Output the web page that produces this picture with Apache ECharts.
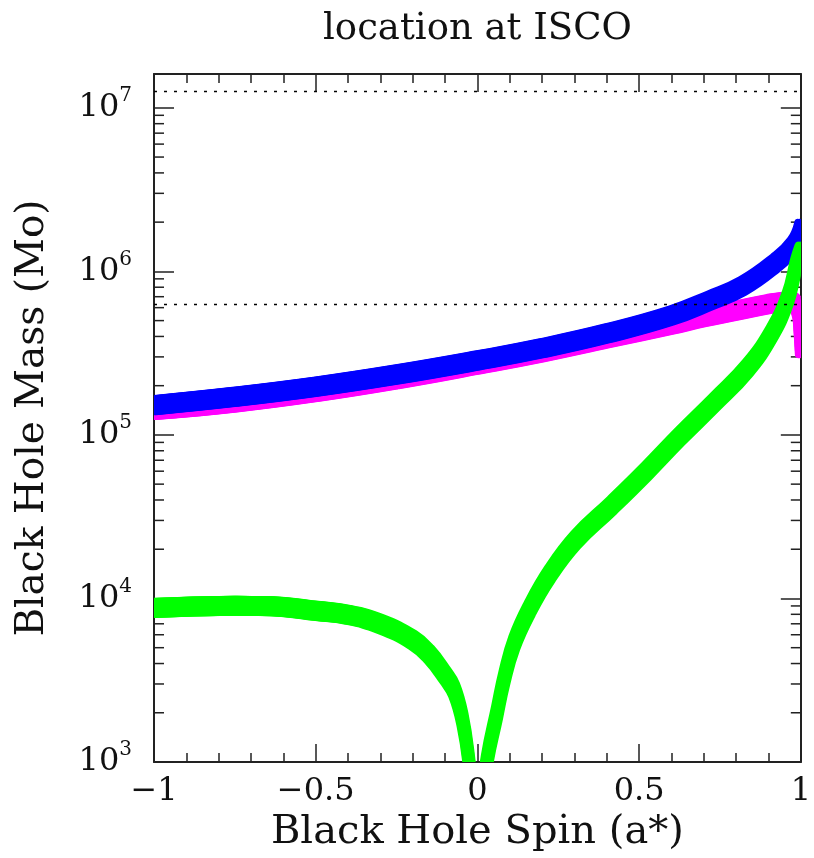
<!DOCTYPE html>
<html>
<head>
<meta charset="utf-8">
<script src="https://cdn.jsdelivr.net/npm/echarts@6/dist/echarts.min.js"></script>
<style>html,body{margin:0;padding:0;background:#fff}#c{width:814px;height:858px}</style>
</head>
<body>
<div id="c"></div>
<script>
// ---- data ----
var spinBlue = [-1, -0.75, -0.5, -0.25, 0, 0.2, 0.4, 0.6, 0.72, 0.82, 0.92, 0.975, 0.998];
var massBlue = [1.52e5, 1.71e5, 1.97e5, 2.34e5, 2.85e5, 3.39e5, 4.17e5, 5.37e5, 6.65e5, 8.13e5, 1.12e6, 1.43e6, 1.82e6];

var spinMagenta = [-1, -0.75, -0.5, -0.25, 0, 0.2, 0.4, 0.6, 0.7, 0.8, 0.9, 0.95, 0.975, 0.99, 0.996, 1.0];
var massMagenta = [1.42e5, 1.58e5, 1.83e5, 2.19e5, 2.69e5, 3.2e5, 3.89e5, 4.73e5, 5.25e5, 5.75e5, 6.31e5, 6.53e5, 6.53e5, 5.89e5, 4.57e5, 3.39e5];

var spinGreenNeg = [-1, -0.9, -0.8, -0.7, -0.6, -0.5, -0.4, -0.3, -0.2, -0.15, -0.1, -0.072, -0.046, -0.026, -0.012];
var massGreenNeg = [8.75e3, 8.9e3, 9.0e3, 9.0e3, 8.87e3, 8.4e3, 7.94e3, 6.98e3, 5.57e3, 4.57e3, 3.39e3, 2.75e3, 1.81e3, 1.0e3, 5.0e2];

var spinGreenPos = [0.012, 0.029, 0.061, 0.0835, 0.114, 0.162, 0.224, 0.304, 0.416, 0.524, 0.626, 0.734, 0.836, 0.91, 0.959, 0.986, 0.999];
var massGreenPos = [5.0e2, 1.0e3, 2.02e3, 3.28e3, 5.35e3, 8.67e3, 1.41e4, 2.28e4, 3.71e4, 6.03e4, 9.77e4, 1.59e5, 2.57e5, 4.19e5, 6.79e5, 1.1e6, 1.32e6];

var dottedLevels = [1.26e7, 6.28e5];

var xMin = -1, xMax = 1, xInterval = 0.5;
var yMin = 1e3, yMax = 1.61e7;
var yDecades = [3, 4, 5, 6, 7];

var titleText = 'location at ISCO';
var xName = 'Black Hole Spin (a*)';
var yName = 'Black Hole Mass (Mo)';

// ---- helpers ----
var minorY = [];
yDecades.forEach(function (d) {
  for (var m = 2; m <= 9; m++) {
    var v = m * Math.pow(10, d);
    if (v < yMax) minorY.push([0, v]);
  }
});

var FONT = 'DejaVu Serif';
var AX = '#222';
// band drawn as a small rounded rectangle swept along the curve
var PEN_W = 8;
var PEN_DX = [-2, 0, 2];
var PEN_DY = [-6, -2, 2, 6];

var chart = echarts.init(document.getElementById('c'), null, {renderer: 'canvas'});

function bandSeries(name, xs, ys, color, z) {
  return {
    name: name, type: 'custom', coordinateSystem: 'cartesian2d', xAxisIndex: 0, yAxisIndex: 0,
    silent: true, z: z,
    data: [[xs[0], ys[0]]],
    renderItem: function (params, api) {
      var cs = params.coordSys;
      var pts = xs.map(function (x, i) { return api.coord([x, ys[i]]); });
      var children = [];
      PEN_DX.forEach(function (dx) {
        PEN_DY.forEach(function (dy) {
          children.push({
            type: 'polyline',
            shape: {points: pts.map(function (p) { return [p[0] + dx, p[1] + dy]; }), smooth: 0.45},
            style: {stroke: color, fill: null, lineWidth: PEN_W, lineCap: 'round', lineJoin: 'round'}
          });
        });
      });
      return {
        type: 'group',
        clipPath: {type: 'rect', shape: {x: cs.x, y: cs.y, width: cs.width, height: cs.height}},
        children: children
      };
    }
  };
}

var option = {
  animation: false,
  backgroundColor: '#fff',
  grid: {left: 154, right: 9, top: 74, bottom: 96},
  xAxis: [{
    type: 'value', min: xMin, max: xMax, interval: xInterval, position: 'bottom',
    axisLine: {onZero: false, lineStyle: {color: AX, width: 2}},
    axisTick: {inside: true, length: 18, lineStyle: {color: AX, width: 1.5}},
    minorTick: {show: true, splitNumber: 5, length: 9, lineStyle: {color: AX, width: 1.5}},
    splitLine: {show: false},
    axisLabel: {
      margin: 14, color: '#111', fontFamily: FONT, fontSize: 32,
      formatter: function (v) { return (v < 0 ? '\u2212' + Math.abs(v) : String(v)); }
    },
    name: xName, nameLocation: 'middle', nameGap: 50,
    nameTextStyle: {fontFamily: FONT, fontSize: 40, color: '#111'}
  }, {
    type: 'value', min: xMin, max: xMax, interval: xInterval, position: 'top',
    axisLine: {onZero: false, lineStyle: {color: AX, width: 2}},
    axisTick: {inside: true, length: 18, lineStyle: {color: AX, width: 1.5}},
    minorTick: {show: true, splitNumber: 5, length: 9, lineStyle: {color: AX, width: 1.5}},
    splitLine: {show: false},
    axisLabel: {show: false},
    name: titleText, nameLocation: 'middle', nameGap: 26,
    nameTextStyle: {fontFamily: FONT, fontSize: 37, color: '#111'}
  }],
  yAxis: [{
    type: 'log', logBase: 10, min: yMin, max: yMax, position: 'left',
    axisLine: {onZero: false, lineStyle: {color: AX, width: 2}},
    axisTick: {inside: true, length: 20, lineStyle: {color: AX, width: 1.5}},
    splitLine: {show: false},
    axisLabel: {
      margin: 22, showMaxLabel: false,
      formatter: function (v) {
        var n = Math.round(Math.log10(v));
        if (Math.abs(Math.log10(v) - n) > 1e-6) return '';
        return '{b|10}{s|' + n + '}';
      },
      rich: {
        b: {fontFamily: FONT, fontSize: 32, lineHeight: 44, color: '#111'},
        s: {fontFamily: FONT, fontSize: 20, lineHeight: 20, verticalAlign: 'top', color: '#111'}
      }
    },
    name: yName, nameLocation: 'middle', nameGap: 102, nameRotate: 90,
    nameTextStyle: {fontFamily: FONT, fontSize: 39, color: '#111'}
  }, {
    type: 'log', logBase: 10, min: yMin, max: yMax, position: 'right',
    axisLine: {onZero: false, lineStyle: {color: AX, width: 2}},
    axisTick: {inside: true, length: 20, lineStyle: {color: AX, width: 1.5}},
    splitLine: {show: false},
    axisLabel: {show: false}
  }],
  series: [
    {
      type: 'custom', coordinateSystem: 'cartesian2d', xAxisIndex: 0, yAxisIndex: 0,
      silent: true, z: 1, data: minorY,
      renderItem: function (params, api) {
        var cs = params.coordSys;
        var y = api.coord([0, api.value(1)])[1];
        var st = {stroke: AX, lineWidth: 1.5};
        return {type: 'group', children: [
          {type: 'line', shape: {x1: cs.x, y1: y, x2: cs.x + 10, y2: y}, style: st},
          {type: 'line', shape: {x1: cs.x + cs.width - 10, y1: y, x2: cs.x + cs.width, y2: y}, style: st}
        ]};
      }
    },
    {
      type: 'line', data: [], z: 1, silent: true,
      markLine: {
        silent: true, symbol: 'none', label: {show: false},
        lineStyle: {color: '#000', width: 1.3, type: [3, 7]},
        data: dottedLevels.map(function (v) { return {yAxis: v}; })
      }
    },
    bandSeries('magenta', spinMagenta, massMagenta, '#ff00ff', 2),
    bandSeries('blue', spinBlue, massBlue, '#0000ff', 3),
    bandSeries('green-', spinGreenNeg, massGreenNeg, '#00ff00', 4),
    bandSeries('green+', spinGreenPos, massGreenPos, '#00ff00', 4)
  ]
};
chart.setOption(option);
</script>
</body>
</html>
